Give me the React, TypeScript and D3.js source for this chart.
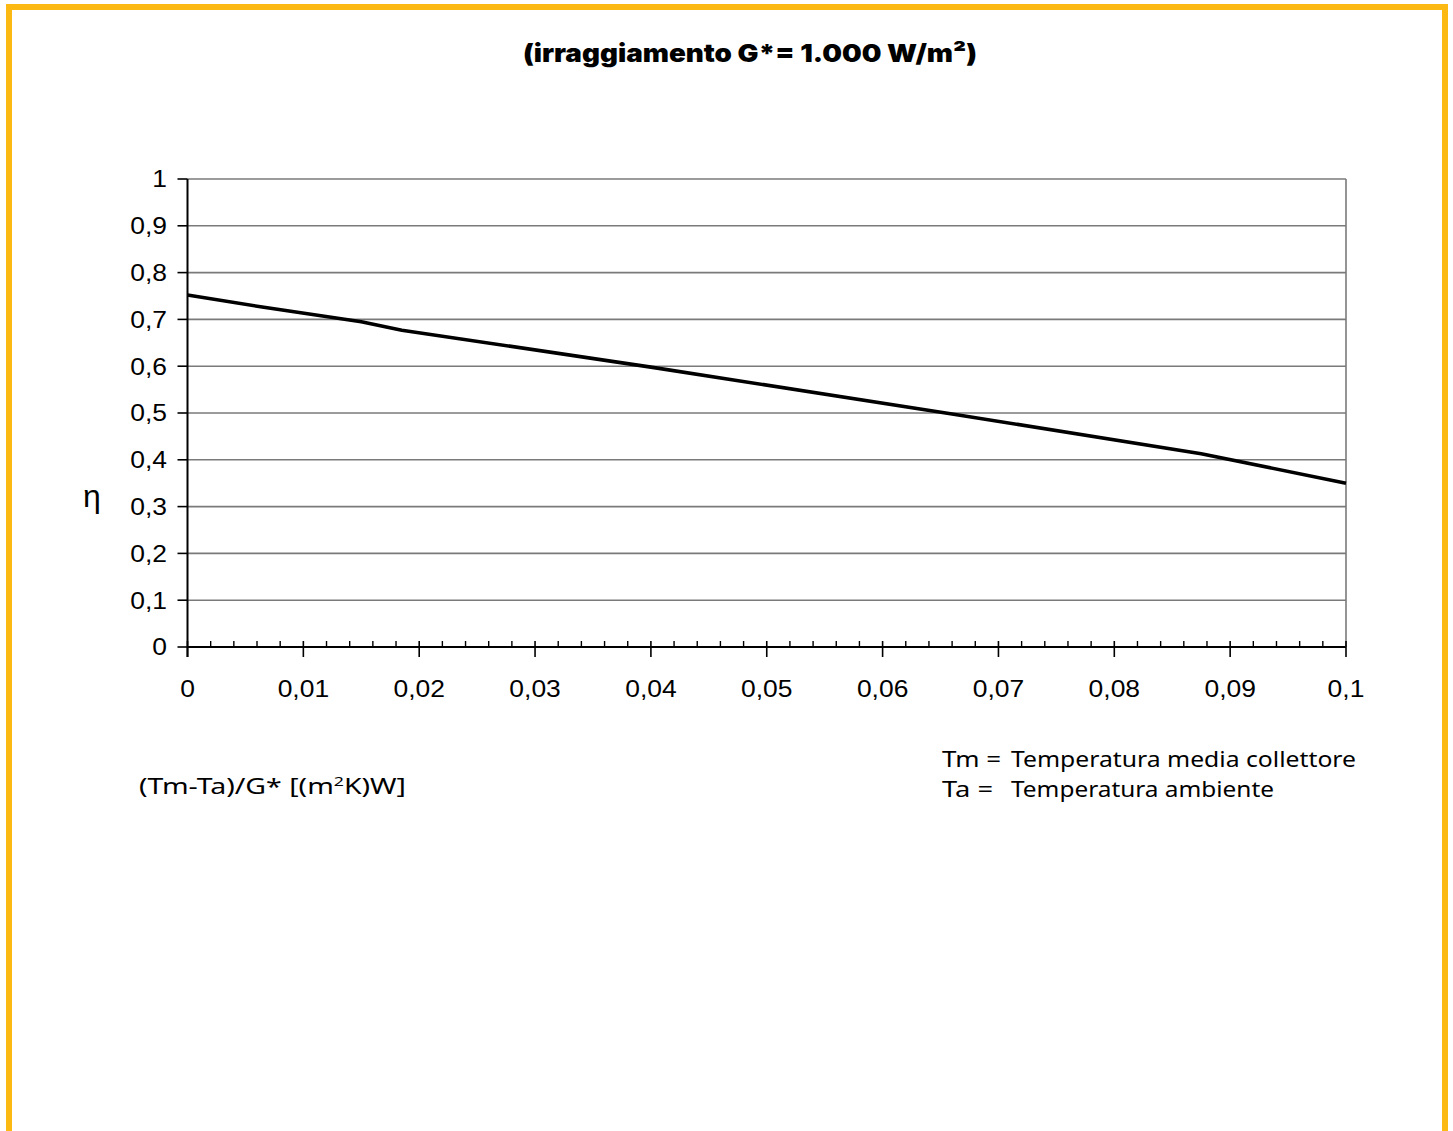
import React from "react";
import * as d3 from "d3";

const W = 1453;
const H = 1131;

const xValues = [0, 0.0063, 0.015, 0.0185, 0.04, 0.066, 0.0875, 0.1];
const etaValues = [0.752, 0.727, 0.695, 0.677, 0.598, 0.498, 0.413, 0.35];
const yTicks = [0, 0.1, 0.2, 0.3, 0.4, 0.5, 0.6, 0.7, 0.8, 0.9, 1];
const xTicks = [0, 0.01, 0.02, 0.03, 0.04, 0.05, 0.06, 0.07, 0.08, 0.09, 0.1];
const xMinorTicks = d3.range(0, 50).map((i) => i * 0.002).filter((v, i) => i % 5 !== 0);

const title = "(irraggiamento G*= 1.000 W/m²)";
const legendLines = [
  ["Tm =", "Temperatura media collettore"],
  ["Ta =", "Temperatura ambiente"],
];

const fmt = (v: number) => String(+v.toFixed(3)).replace(".", ",");

export default function App() {
  const x = d3.scaleLinear().domain([0, 0.1]).range([187.5, 1346]);
  const y = d3.scaleLinear().domain([0, 1]).range([647, 179]);
  const line = d3
    .line<number>()
    .x((_, i) => x(xValues[i]))
    .y((d) => y(d));

  const tickFont = "Liberation Sans, Arial, Helvetica, sans-serif";
  const sx = 1.15;

  return (
    <svg
      width={W}
      height={H}
      style={{ position: "absolute", left: 0, top: 0, background: "#fff" }}
    >
      {/* orange frame (no bottom edge) */}
      <path
        d={`M9,${H} L9,7 L${W - 8},7 L${W - 8},${H}`}
        fill="none"
        stroke="#FDB913"
        strokeWidth={6}
      />

      {/* title */}
      <text
        x={523}
        y={62}
        fontFamily="Inter, Open Sans, sans-serif"
        fontWeight={900}
        fontSize={25}
        fill="#000"
        textLength={454}
        lengthAdjust="spacingAndGlyphs"
      >
        {title}
      </text>

      {/* gridlines */}
      {yTicks.map((t) => (
        <line
          key={"g" + t}
          x1={x(0)}
          x2={x(0.1)}
          y1={y(t)}
          y2={y(t)}
          stroke={t === 0 ? "#000" : "#7a7a7a"}
          strokeWidth={t === 0 ? 2 : 1.6}
        />
      ))}
      {/* right border of plot */}
      <line x1={x(0.1)} x2={x(0.1)} y1={y(1)} y2={y(0)} stroke="#7a7a7a" strokeWidth={1.6} />

      {/* y axis */}
      <line x1={x(0)} x2={x(0)} y1={y(1)} y2={y(0) + 10} stroke="#000" strokeWidth={2} />
      {yTicks.map((t) => (
        <g key={"yt" + t}>
          <line x1={x(0) - 10} x2={x(0)} y1={y(t)} y2={y(t)} stroke="#000" strokeWidth={1.6} />
          <text
            transform={`translate(167,${y(t) + 8.3}) scale(${sx},1)`}
            textAnchor="end"
            fontFamily={tickFont}
            fontSize={23}
            fill="#000"
          >
            {fmt(t)}
          </text>
        </g>
      ))}

      {/* x axis ticks */}
      {xMinorTicks.map((t) => (
        <line key={"xm" + t} x1={x(t)} x2={x(t)} y1={y(0) - 6} y2={y(0)} stroke="#000" strokeWidth={1.4} />
      ))}
      {xTicks.map((t) => (
        <g key={"xt" + t}>
          <line x1={x(t)} x2={x(t)} y1={y(0) - 6} y2={y(0) + 10} stroke="#000" strokeWidth={1.6} />
          <text
            transform={`translate(${x(t)},697) scale(${sx},1)`}
            textAnchor="middle"
            fontFamily={tickFont}
            fontSize={23}
            fill="#000"
          >
            {fmt(t)}
          </text>
        </g>
      ))}

      {/* data line */}
      <path d={line(etaValues) || ""} fill="none" stroke="#000" strokeWidth={3.6} strokeLinejoin="round" />

      {/* eta label */}
      <text x={83} y={507} fontFamily={tickFont} fontSize={32} fill="#000">
        η
      </text>

      {/* x axis title */}
      <text x={139} y={794} fontFamily="Noto Sans, sans-serif" fontSize={21} fill="#000" textLength={267} lengthAdjust="spacingAndGlyphs">
        (Tm-Ta)/G* [(m<tspan fontSize={13} dy={-8}>2</tspan><tspan dy={8}>K)W]</tspan>
      </text>

      {/* legend */}
      {legendLines.map((l, i) => (
        <g key={"lg" + i} fontFamily="Noto Sans, sans-serif" fontSize={22} fill="#000">
          <text x={942} y={767 + i * 29.5} textLength={i === 0 ? 59 : 51} lengthAdjust="spacingAndGlyphs">{l[0]}</text>
          <text x={1011} y={767 + i * 29.5} textLength={i === 0 ? 345 : 263} lengthAdjust="spacingAndGlyphs">
            {l[1]}
          </text>
        </g>
      ))}
    </svg>
  );
}
